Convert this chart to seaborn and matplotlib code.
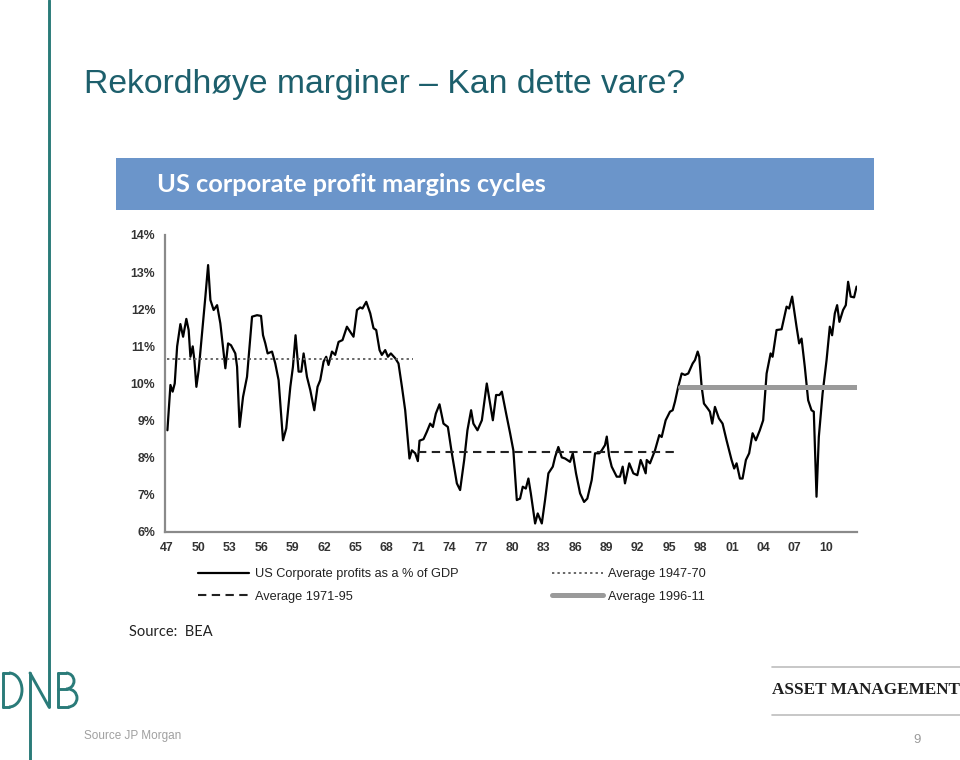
import numpy as np
import pandas as pd
import seaborn as sns
import matplotlib.pyplot as plt
from matplotlib.patches import Arc, Rectangle
from matplotlib.lines import Line2D

# ---------------- data ----------------
years = [1947.03, 1947.32, 1947.53, 1947.73, 1947.96, 1948.27, 1948.53, 1948.84, 1949.06, 1949.23,
         1949.45, 1949.61, 1949.80, 1950.02, 1950.34, 1950.66, 1950.92, 1951.14, 1951.45, 1951.78,
         1952.09, 1952.57, 1952.83, 1953.11, 1953.52, 1953.69, 1953.93, 1954.26, 1954.64, 1955.12,
         1955.60, 1955.98, 1956.17, 1956.39, 1956.61, 1957.03, 1957.34, 1957.66, 1958.08, 1958.39,
         1958.78, 1959.03, 1959.28, 1959.57, 1959.83, 1960.05, 1960.37, 1960.69, 1961.07, 1961.38,
         1961.64, 1961.96, 1962.21, 1962.43, 1962.76, 1963.07, 1963.39, 1963.77, 1964.19, 1964.51,
         1964.82, 1965.15, 1965.46, 1965.68, 1966.04, 1966.42, 1966.73, 1966.99, 1967.31, 1967.53,
         1967.85, 1968.11, 1968.39, 1968.81, 1969.12, 1969.45, 1969.76, 1970.17, 1970.40, 1970.72,
         1970.97, 1971.13, 1971.51, 1971.83, 1972.15, 1972.41, 1972.69, 1973.04, 1973.42, 1973.84,
         1974.22, 1974.70, 1975.01, 1975.40, 1975.71, 1976.06, 1976.28, 1976.67, 1977.09, 1977.56,
         1977.88, 1978.14, 1978.45, 1978.77, 1979.00, 1979.41, 1979.79, 1980.10, 1980.43, 1980.74,
         1981.00, 1981.29, 1981.54, 1981.77, 1982.18, 1982.43, 1982.82, 1983.13, 1983.45, 1983.87,
         1984.09, 1984.40, 1984.73, 1985.04, 1985.52, 1985.78, 1986.09, 1986.48, 1986.86, 1987.17,
         1987.59, 1987.91, 1988.32, 1988.55, 1988.86, 1989.03, 1989.25, 1989.50, 1989.98, 1990.29,
         1990.55, 1990.77, 1991.18, 1991.57, 1991.95, 1992.27, 1992.52, 1992.75, 1992.85, 1993.16,
         1993.64, 1994.05, 1994.28, 1994.66, 1995.07, 1995.33, 1995.55, 1995.86, 1996.19, 1996.50,
         1996.82, 1997.24, 1997.46, 1997.72, 1997.87, 1998.10, 1998.32, 1998.67, 1998.89, 1999.11,
         1999.37, 1999.75, 2000.10, 2000.48, 2000.96, 2001.21, 2001.44, 2001.76, 2002.01, 2002.33,
         2002.64, 2002.97, 2003.28, 2003.66, 2003.98, 2004.31, 2004.69, 2004.88, 2005.26, 2005.74,
         2006.22, 2006.46, 2006.75, 2007.17, 2007.42, 2007.65, 2007.96, 2008.28, 2008.60, 2008.82,
         2009.08, 2009.30, 2009.66, 2010.04, 2010.35, 2010.57, 2010.83, 2011.05, 2011.27, 2011.62,
         2011.88, 2012.10, 2012.35, 2012.67, 2012.91]
margins = [8.74, 9.96, 9.78, 10.00, 11.00, 11.60, 11.26, 11.74, 11.44, 10.72,
           11.00, 10.63, 9.91, 10.36, 11.35, 12.34, 13.19, 12.25, 11.98, 12.11,
           11.62, 10.41, 11.08, 11.03, 10.81, 10.45, 8.83, 9.64, 10.18, 11.80,
           11.84, 11.82, 11.30, 11.08, 10.81, 10.86, 10.54, 10.09, 8.47, 8.79,
           9.91, 10.45, 11.30, 10.32, 10.32, 10.81, 10.18, 9.82, 9.28, 9.91,
           10.09, 10.59, 10.72, 10.50, 10.86, 10.77, 11.12, 11.17, 11.53, 11.39,
           11.26, 11.98, 12.05, 12.02, 12.20, 11.89, 11.49, 11.44, 10.90, 10.77,
           10.90, 10.72, 10.81, 10.68, 10.54, 9.91, 9.28, 7.98, 8.20, 8.12,
           7.91, 8.46, 8.50, 8.70, 8.92, 8.83, 9.19, 9.44, 8.92, 8.83,
           8.12, 7.31, 7.13, 7.94, 8.74, 9.28, 8.92, 8.74, 9.01, 10.00,
           9.46, 9.01, 9.69, 9.69, 9.78, 9.19, 8.66, 8.20, 6.86, 6.90,
           7.22, 7.17, 7.44, 7.04, 6.23, 6.50, 6.23, 6.86, 7.58, 7.76,
           8.02, 8.29, 8.01, 7.98, 7.89, 8.12, 7.58, 7.04, 6.81, 6.90,
           7.40, 8.12, 8.12, 8.20, 8.34, 8.57, 8.05, 7.76, 7.49, 7.49,
           7.76, 7.31, 7.85, 7.58, 7.53, 7.94, 7.76, 7.58, 7.94, 7.85,
           8.20, 8.61, 8.56, 9.01, 9.24, 9.28, 9.51, 9.91, 10.27, 10.23,
           10.27, 10.54, 10.63, 10.86, 10.72, 9.91, 9.46, 9.33, 9.24, 8.92,
           9.37, 9.06, 8.92, 8.47, 7.94, 7.71, 7.85, 7.44, 7.44, 7.94,
           8.12, 8.66, 8.47, 8.74, 9.01, 10.27, 10.81, 10.72, 11.44, 11.46,
           12.07, 12.02, 12.34, 11.53, 11.08, 11.21, 10.45, 9.55, 9.28, 9.24,
           6.95, 8.56, 9.73, 10.63, 11.53, 11.30, 11.89, 12.11, 11.66, 11.98,
           12.11, 12.74, 12.34, 12.32, 12.61]

avg_labels = ["Average 1947-70", "Average 1971-95", "Average 1996-11"]
avg_values = [10.66, 8.15, 9.90]
avg_start = [1947.0, 1971.0, 1996.0]
avg_end = [1970.55, 1995.9, 2012.95]

series_label = "US Corporate profits as a % of GDP"
xtick_years = list(range(1947, 2011, 3))
xtick_labels = ["47", "50", "53", "56", "59", "62", "65", "68", "71", "74", "77",
                "80", "83", "86", "89", "92", "95", "98", "01", "04", "07", "10"]
ytick_vals = [6, 7, 8, 9, 10, 11, 12, 13, 14]
ytick_labels = ["6%", "7%", "8%", "9%", "10%", "11%", "12%", "13%", "14%"]

slide_title = "Rekordhøye marginer \u2013 Kan dette vare?"
chart_title = "US corporate profit margins cycles"

# ---------------- figure ----------------
sns.set_theme(style="white")
plt.rcParams['font.family'] = ['Liberation Sans', 'DejaVu Sans']

fig = plt.figure(figsize=(9.6, 7.6), dpi=100)
fig.patch.set_facecolor("white")

# overlay axes in pixel coordinates for slide decorations
deco = fig.add_axes([0, 0, 1, 1], zorder=0)
deco.set_xlim(0, 960)
deco.set_ylim(760, 0)
deco.axis("off")

teal = "#2a7b79"
# DNB logo + long vertical rule
lw_logo = 2.1
deco.add_line(Line2D([49, 49], [0, 707], color=teal, lw=lw_logo))
deco.add_line(Line2D([30, 30], [673, 760], color=teal, lw=lw_logo))
deco.add_line(Line2D([30, 49], [673, 707], color=teal, lw=lw_logo))
# D
deco.add_line(Line2D([3, 3], [673, 707], color=teal, lw=lw_logo))
deco.add_line(Line2D([3, 9], [673, 673], color=teal, lw=lw_logo))
deco.add_line(Line2D([3, 9], [707, 707], color=teal, lw=lw_logo))
deco.add_patch(Arc((9, 690), 26, 34, theta1=-90, theta2=90, color=teal, lw=lw_logo))
# B
deco.add_line(Line2D([58, 58], [673, 707], color=teal, lw=lw_logo))
deco.add_line(Line2D([58, 66], [673, 673], color=teal, lw=lw_logo))
deco.add_line(Line2D([58, 67], [689, 689], color=teal, lw=lw_logo))
deco.add_line(Line2D([58, 68], [707, 707], color=teal, lw=lw_logo))
deco.add_patch(Arc((66, 681), 16, 16, theta1=-90, theta2=90, color=teal, lw=lw_logo))
deco.add_patch(Arc((68, 698), 18, 18, theta1=-90, theta2=90, color=teal, lw=lw_logo))

# slide title
deco.text(84, 84, slide_title, fontsize=24.3, color="#1d5f6c", va="center", ha="left",
          family=["Liberation Sans", "DejaVu Sans"])

# blue chart header
deco.add_patch(Rectangle((116, 158), 758, 52, facecolor="#6b95ca", edgecolor="none"))
deco.text(157, 185, chart_title, fontsize=18.3, color="white", fontweight="bold",
          va="center", ha="left", family=["Lato", "DejaVu Sans"])

# source lines
deco.text(129, 632, "Source:  BEA", fontsize=10.5, color="#222222", va="center", ha="left",
          family=["Lato", "DejaVu Sans"])
deco.text(84, 736, "Source JP Morgan", fontsize=8.5, color="#a0a0a0", va="center", ha="left")
deco.text(917, 740, "9", fontsize=9.5, color="#9a9a9a", va="center", ha="center")

# asset management block
deco.add_line(Line2D([772, 960], [667, 667], color="#bdbdbd", lw=1.2))
deco.add_line(Line2D([772, 960], [715, 715], color="#bdbdbd", lw=1.2))
deco.text(772, 690, "ASSET MANAGEMENT", fontsize=12.3, color="#1e1e1e", va="center", ha="left",
          fontweight="bold", family=["Liberation Serif", "DejaVu Serif"])

# ---------------- main chart ----------------
ax = fig.add_axes([165 / 960, 1 - 532 / 760, (857 - 165) / 960, (532 - 235) / 760], zorder=2)
ax.patch.set_alpha(0)

df = pd.DataFrame({"year": years, "margin": margins})
sns.lineplot(data=df, x="year", y="margin", ax=ax, color="black", lw=1.6,
             label=series_label, legend=False)

avg_styles = [dict(color="#666666", lw=1.4, linestyle=(0, (1.2, 1.6))),
              dict(color="#222222", lw=1.5, linestyle=(0, (4, 2.6))),
              dict(color="#9a9a9a", lw=3.6, linestyle="-")]
for lab, v, s, e, st in zip(avg_labels, avg_values, avg_start, avg_end, avg_styles):
    adf = pd.DataFrame({"year": [s, e], "margin": [v, v]})
    sns.lineplot(data=adf, x="year", y="margin", ax=ax, label=lab, legend=False, **st)

ax.set_xlim(1946.8, 2012.95)
ax.set_ylim(6, 14)
ax.set_xticks(xtick_years)
ax.set_xticklabels(xtick_labels)
ax.set_yticks(ytick_vals)
ax.set_yticklabels(ytick_labels)
ax.set_xlabel("")
ax.set_ylabel("")
for side in ["top", "right"]:
    ax.spines[side].set_visible(False)
for side in ["left", "bottom"]:
    ax.spines[side].set_color("#8a8a8a")
    ax.spines[side].set_linewidth(1.6)
ax.tick_params(axis="both", which="both", direction="out", length=3, width=1,
               color="#8a8a8a", labelsize=8.8, labelcolor="#333333", pad=4)
for t in ax.get_xticklabels() + ax.get_yticklabels():
    t.set_fontweight("bold")

# legend below chart
lines = ax.get_lines()
handles = [lines[0], lines[2], lines[1], lines[3]]
labels = [series_label, avg_labels[1], avg_labels[0], avg_labels[2]]
leg = fig.legend(handles, labels, loc="upper left", bbox_to_anchor=(198 / 960, 1 - 568 / 760),
                 ncol=2, frameon=False, fontsize=9.2, handlelength=4.0, handletextpad=0.45,
                 columnspacing=7.3, labelspacing=0.85, borderaxespad=0, borderpad=0)
for t in leg.get_texts():
    t.set_color("#222222")

fig.savefig("out.png", dpi=100, facecolor="white")
